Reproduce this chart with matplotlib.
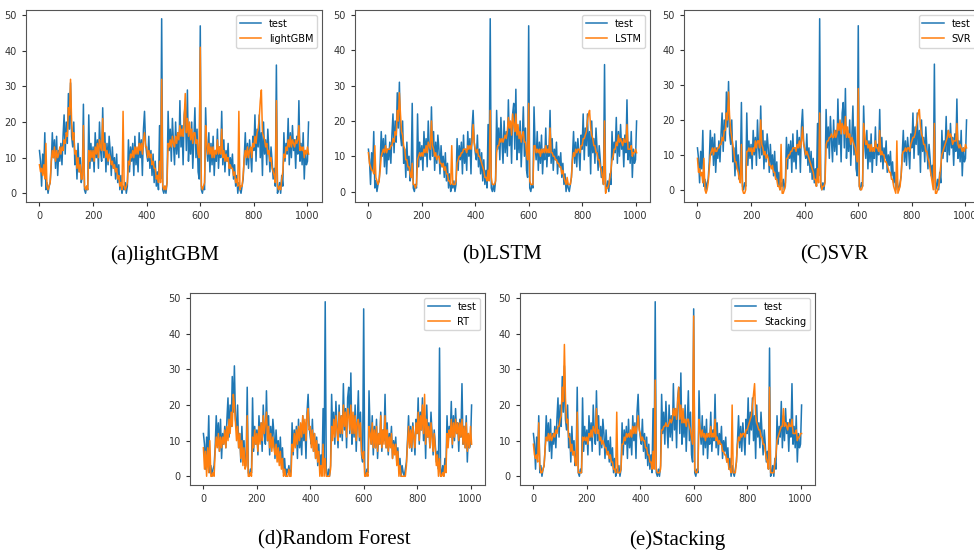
import numpy as np
import matplotlib
matplotlib.use('Agg')
import matplotlib.pyplot as plt

# observed series (same in every panel), one value every 4 steps
test = [12, 9, 2, 11, 6, 17, 1, 3, 0, 2,
        3, 8, 17, 10, 15, 7, 16, 5, 12, 9,
        14, 8, 16, 22, 11, 20, 14, 28, 18, 31,
        16, 13, 20, 8, 12, 4, 14, 6, 10, 3,
        5, 25, 1, 0, 2, 1, 22, 7, 14, 9,
        13, 6, 17, 10, 15, 7, 20, 12, 9, 24,
        10, 17, 6, 14, 8, 16, 12, 5, 13, 7,
        10, 4, 11, 3, 8, 1, 5, 0, 2, 1,
        3, 0, 2, 15, 6, 13, 9, 14, 5, 16,
        8, 12, 6, 17, 10, 15, 5, 18, 23, 14,
        11, 9, 16, 7, 12, 5, 11, 3, 9, 2,
        6, 1, 19, 4, 49, 1, 0, 2, 0, 3,
        23, 12, 18, 9, 21, 14, 8, 20, 11, 17,
        10, 26, 13, 19, 8, 22, 25, 12, 29, 9,
        17, 11, 20, 7, 15, 24, 10, 18, 6, 4,
        47, 1, 0, 2, 1, 24, 13, 9, 17, 6,
        14, 8, 16, 5, 12, 9, 18, 7, 13, 10,
        23, 8, 15, 6, 12, 9, 14, 5, 10, 7,
        11, 4, 8, 2, 5, 0, 3, 1, 0, 2,
        4, 10, 17, 8, 14, 7, 15, 11, 6, 16,
        12, 22, 9, 18, 13, 22, 10, 17, 5, 20,
        11, 15, 8, 18, 12, 6, 13, 9, 4, 7,
        2, 36, 0, 1, 3, 0, 5, 2, 17, 9,
        14, 11, 21, 8, 17, 10, 19, 12, 15, 7,
        16, 11, 26, 9, 14, 8, 17, 4, 12, 8,
        9, 20]

lightgbm = [8, 6, 7, 5, 8, 4, 14, 2, 1, 2,
            3, 9, 12, 10, 13, 9, 12, 10, 11, 13,
            11, 13, 12, 15, 14, 17, 16, 24, 22, 32,
            20, 15, 17, 11, 12, 7, 10, 6, 8, 4,
            4, 19, 2, 1, 2, 1, 12, 9, 12, 10,
            12, 9, 13, 11, 14, 10, 15, 13, 12, 21,
            12, 14, 10, 12, 9, 11, 10, 8, 9, 7,
            8, 6, 7, 4, 5, 2, 3, 1, 23, 2,
            1, 2, 3, 9, 8, 11, 10, 12, 10, 13,
            11, 13, 11, 14, 12, 14, 11, 15, 17, 13,
            13, 10, 12, 10, 11, 8, 9, 7, 7, 4,
            5, 3, 9, 3, 32, 2, 1, 2, 1, 3,
            14, 13, 15, 13, 16, 14, 13, 16, 14, 17,
            15, 19, 16, 18, 16, 21, 28, 17, 21, 16,
            20, 15, 18, 14, 17, 17, 14, 15, 11, 10,
            41, 2, 1, 2, 3, 19, 14, 11, 14, 11,
            13, 10, 13, 10, 12, 11, 15, 11, 13, 11,
            18, 10, 12, 9, 11, 9, 10, 7, 8, 7,
            7, 5, 6, 3, 4, 2, 23, 1, 2, 2,
            5, 10, 12, 10, 13, 10, 12, 13, 10, 14,
            13, 16, 14, 17, 18, 21, 26, 29, 17, 16,
            15, 13, 14, 11, 12, 9, 10, 7, 6, 5,
            3, 26, 2, 1, 2, 1, 4, 6, 11, 10,
            13, 12, 15, 13, 16, 13, 15, 14, 13, 15,
            14, 15, 19, 12, 13, 12, 13, 10, 12, 11,
            13, 11]

lstm = [11, 8, 7, 6, 6, 5, 13, 4, 3, 2,
        3, 6, 10, 11, 12, 11, 13, 11, 12, 12,
        12, 13, 13, 15, 14, 17, 16, 23, 20, 28,
        22, 17, 16, 13, 12, 9, 9, 7, 7, 5,
        4, 8, 2, 2, 1, 2, 9, 10, 11, 10,
        11, 10, 12, 11, 13, 11, 14, 13, 12, 20,
        13, 12, 10, 11, 9, 10, 10, 8, 8, 7,
        8, 6, 7, 5, 5, 3, 3, 2, 13, 2,
        2, 2, 3, 8, 9, 10, 10, 11, 11, 12,
        12, 12, 11, 13, 12, 13, 12, 14, 19, 14,
        12, 11, 12, 10, 10, 9, 8, 7, 6, 4,
        4, 3, 6, 3, 23, 4, 2, 2, 2, 3,
        11, 13, 13, 15, 14, 15, 14, 15, 16, 15,
        17, 21, 18, 20, 16, 22, 19, 17, 22, 16,
        19, 15, 17, 14, 16, 17, 14, 14, 11, 9,
        25, 3, 2, 2, 2, 13, 13, 11, 12, 11,
        12, 10, 12, 11, 12, 11, 13, 11, 12, 11,
        18, 11, 11, 10, 10, 9, 9, 8, 8, 7,
        7, 5, 6, 4, 3, 2, 4, 2, 2, 2,
        4, 9, 11, 10, 12, 11, 12, 12, 11, 13,
        13, 15, 15, 16, 17, 20, 22, 23, 18, 16,
        15, 13, 13, 11, 11, 9, 9, 7, 6, 4,
        2, 20, -0.5, 1, 1, 2, 4, 6, 9, 10,
        12, 12, 14, 13, 16, 14, 15, 14, 13, 15,
        14, 14, 19, 12, 12, 12, 13, 10, 11, 11,
        12, 11]

svr = [9, 5, 6, 4, 5, 2, 9, 0, -1, 0,
       2, 6, 10, 11, 12, 10, 12, 11, 11, 12,
       12, 13, 13, 15, 14, 17, 17, 22, 20, 28,
       21, 17, 15, 13, 11, 8, 8, 6, 5, 3,
       2, 13, 0, -1, -1, 0, 11, 11, 12, 11,
       12, 10, 12, 11, 14, 12, 14, 14, 12, 20,
       13, 12, 10, 11, 9, 10, 9, 7, 7, 6,
       7, 5, 5, 3, 3, 1, 1, 0, 13, -1,
       -1, 0, 1, 9, 9, 10, 10, 11, 11, 12,
       12, 12, 11, 13, 12, 14, 12, 14, 18, 13,
       12, 10, 11, 10, 9, 8, 7, 6, 5, 3,
       3, 1, 6, 2, 22, 2, 0, 1, 1, 2,
       13, 14, 14, 15, 15, 16, 15, 15, 17, 15,
       16, 19, 17, 20, 16, 19, 18, 16, 21, 15,
       18, 15, 16, 13, 15, 14, 13, 12, 10, 8,
       29, 1, 0, 0, 1, 19, 16, 13, 14, 12,
       13, 11, 13, 11, 12, 11, 14, 12, 12, 11,
       17, 10, 11, 10, 10, 8, 8, 7, 6, 5,
       5, 3, 3, 1, 0, -1, 14, -1, 0, 1,
       4, 10, 11, 11, 12, 11, 12, 12, 11, 13,
       14, 15, 15, 16, 18, 20, 22, 23, 18, 16,
       15, 13, 13, 11, 11, 9, 8, 6, 4, 2,
       0, 19, -1, -1, 0, 1, 4, 7, 10, 11,
       12, 13, 14, 15, 17, 15, 16, 15, 13, 14,
       14, 14, 19, 13, 12, 13, 12, 11, 12, 11,
       13, 12]

rt = [8, 2, 7, 0, 8, 1, 10, 0, 0, 1,
      0, 7, 11, 8, 12, 7, 11, 8, 11, 9,
      13, 8, 14, 10, 16, 12, 18, 14, 23, 20,
      15, 10, 14, 8, 12, 5, 10, 3, 8, 2,
      3, 17, 0, 0, 1, 0, 11, 8, 13, 9,
      12, 7, 14, 9, 15, 10, 17, 12, 15, 18,
      10, 14, 8, 12, 7, 11, 8, 6, 9, 4,
      8, 3, 7, 2, 5, 0, 2, 0, 0, 0,
      2, 0, 0, 9, 7, 12, 8, 13, 9, 14,
      10, 15, 11, 17, 12, 16, 10, 17, 19, 13,
      14, 8, 13, 7, 12, 5, 10, 4, 7, 0,
      3, 0, 9, 0, 5, 0, 0, 0, 0, 2,
      14, 10, 16, 11, 17, 13, 10, 18, 12, 17,
      12, 20, 14, 18, 11, 19, 17, 13, 20, 12,
      18, 12, 17, 10, 15, 16, 11, 15, 7, 5,
      7, 0, 0, 1, 0, 14, 12, 9, 15, 8,
      13, 8, 14, 7, 12, 9, 17, 8, 13, 9,
      17, 8, 13, 7, 11, 8, 12, 5, 9, 6,
      9, 3, 7, 0, 3, 0, 0, 0, 0, 0,
      3, 9, 14, 8, 13, 8, 14, 11, 8, 15,
      12, 18, 10, 17, 13, 20, 12, 23, 9, 16,
      11, 14, 8, 15, 11, 7, 12, 8, 3, 6,
      0, 5, 0, 0, 1, 0, 3, 1, 12, 8,
      13, 11, 16, 9, 15, 11, 16, 12, 15, 10,
      15, 11, 16, 9, 14, 8, 15, 7, 12, 8,
      14, 9]

stacking = [9, 6, 5, 6, 4, 15, 3, 1, 1, 2,
            3, 8, 11, 10, 12, 10, 12, 10, 11, 12,
            11, 13, 12, 14, 14, 16, 17, 25, 21, 37,
            22, 15, 16, 11, 11, 7, 9, 6, 7, 4,
            3, 18, 1, 1, 1, 1, 11, 10, 11, 10,
            11, 9, 12, 11, 13, 11, 14, 13, 12, 19,
            12, 13, 10, 11, 9, 10, 9, 8, 8, 6,
            7, 5, 6, 4, 4, 2, 2, 1, 18, 1,
            1, 1, 2, 9, 9, 11, 10, 12, 11, 12,
            11, 13, 11, 14, 12, 14, 12, 14, 17, 13,
            12, 10, 11, 10, 10, 8, 8, 6, 6, 4,
            4, 2, 7, 2, 27, 2, 1, 1, 1, 2,
            13, 13, 14, 14, 15, 14, 14, 15, 16, 15,
            16, 19, 17, 19, 16, 21, 25, 16, 20, 15,
            19, 15, 16, 14, 16, 16, 14, 13, 11, 9,
            45, 2, 1, 1, 2, 16, 13, 11, 13, 11,
            12, 10, 12, 11, 12, 11, 14, 11, 12, 11,
            16, 10, 11, 9, 10, 9, 9, 7, 7, 6,
            6, 4, 5, 2, 2, 1, 20, 1, 1, 1,
            4, 9, 11, 10, 12, 11, 12, 12, 11, 13,
            13, 14, 15, 16, 17, 20, 23, 26, 17, 15,
            14, 13, 13, 11, 11, 9, 9, 7, 5, 4,
            2, 25, 1, 1, 1, 1, 4, 6, 10, 11,
            12, 13, 14, 14, 19, 14, 15, 14, 13, 15,
            14, 14, 16, 12, 12, 12, 13, 10, 11, 11,
            12, 12]

model_names = ['lightGBM', 'LSTM', 'SVR', 'RT', 'Stacking']
captions = ['(a)lightGBM', '(b)LSTM', '(C)SVR', '(d)Random Forest', '(e)Stacking']
preds = [lightgbm, lstm, svr, rt, stacking]

step = 4

W, H = 974, 555
fig = plt.figure(figsize=(W / 100, H / 100), dpi=100)

# axes boxes in pixels: left, top, right, bottom
boxes = [(26, 10, 322, 202), (355, 10, 650, 202), (684, 10, 980, 202),
         (190, 293, 485, 485), (520, 293, 815, 485)]
caption_pos = [(165, 255), (502, 255), (834, 255), (334, 540), (677, 540)]

for name, cap, p, (l, t, r, b), (cx, cy) in zip(model_names, captions, preds, boxes, caption_pos):
    ax = fig.add_axes([l / W, 1 - b / H, (r - l) / W, (b - t) / H])
    ax.plot(np.arange(len(test)) * step, test, color='#1f77b4', lw=1.1, label='test')
    ax.plot(np.arange(len(p)) * step, p, color='#ff7f0e', lw=1.1, label=name)
    ax.set_xticks([0, 200, 400, 600, 800, 1000])
    ax.set_yticks([0, 10, 20, 30, 40, 50])
    ax.tick_params(labelsize=7, colors='#333333', length=3)
    for s in ax.spines.values():
        s.set_color('#555555')
        s.set_linewidth(0.8)
    ax.legend(loc='upper right', fontsize=7, handlelength=2.2)
    fig.text(cx / W, 1 - cy / H, cap, ha='center', va='center',
             fontsize=15, family='Liberation Serif')

fig.savefig('out.png', dpi=100)
